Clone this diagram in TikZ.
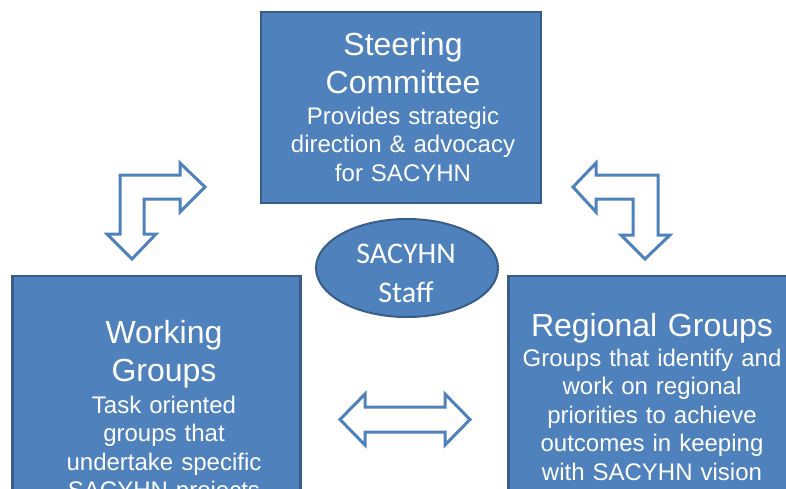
\documentclass[tikz,border=0pt]{standalone}
\usepackage{fontspec}
\setmainfont{Liberation Sans}
\newfontfamily\stafffont{Carlito}
\usetikzlibrary{shapes.geometric}
\definecolor{boxblue}{HTML}{4F81BD}
\definecolor{boxedge}{HTML}{385D8A}
\tikzstyle{group}=[rectangle,fill=boxblue,draw=boxedge,line width=2.5pt,inner sep=0pt]
\tikzstyle{staff}=[ellipse,fill=boxblue,draw=boxedge,line width=2pt,inner sep=0pt,minimum width=182pt,minimum height=98pt]
\tikzstyle{head}=[text=white,inner sep=0pt,anchor=base,align=center,text width=300pt,font=\fontsize{32}{38}\selectfont]
\tikzstyle{desc}=[text=white,inner sep=0pt,anchor=base,align=center,text width=300pt,font=\fontsize{24}{28.5}\selectfont]
\tikzstyle{blockarrow}=[draw=boxblue,line width=3pt,fill=white,line join=miter]

\begin{document}
\begin{tikzpicture}[x=1pt,y=-1pt]
    \useasboundingbox (0,0) rectangle (786,488);
    \clip (0,0) rectangle (786,488);
    % the three groups and the staff in the middle
    \node[group,minimum width=280pt,minimum height=191pt] (steer) at (401,107.5) {};
    \node[group,minimum width=288pt,minimum height=263pt] (work) at (156.5,407.5) {};
    \node[group,minimum width=288pt,minimum height=263pt] (region) at (652.5,407.5) {};
    \node[staff] (staff) at (407,268) {};

    \node[head] (steertitle) at (403,55) {Steering\\Committee};
    \node[desc] (steerdesc) at (403,124) {Provides strategic\\direction \& advocacy\\for SACYHN};
    \node[head] (worktitle) at (164,343) {Working\\Groups};
    \node[desc] (workdesc) at (164,413) {Task oriented\\groups that\\undertake specific\\SACYHN projects};
    \node[head] (regiontitle) at (652,336) {Regional Groups};
    \node[desc] (regiondesc) at (652,366) {Groups that identify and\\work on regional\\priorities to achieve\\outcomes in keeping\\with SACYHN vision};
    \node[text=white,inner sep=0pt,anchor=base,align=center,text width=150pt,
          font=\stafffont\fontsize{30}{39}\selectfont] (stafftext) at (406,263) {SACYHN\\Staff};

    % block arrows between the groups
    \draw[blockarrow] (120,175) -- (180,175) -- (180,163) -- (205,187) -- (180,212) -- (180,199)
        -- (144,199) -- (144,234) -- (156,234) -- (132,259) -- (107,234) -- (120,234) -- cycle;
    \draw[blockarrow] (658,175) -- (596,175) -- (596,163) -- (573,187) -- (596,212) -- (596,199)
        -- (633,199) -- (633,235) -- (621,235) -- (645,259) -- (670,235) -- (658,235) -- cycle;
    \draw[blockarrow] (340,419.5) -- (365,394) -- (365,407) -- (445,407) -- (445,394) -- (470,419.5)
        -- (445,445) -- (445,432) -- (365,432) -- (365,445) -- cycle;
\end{tikzpicture}
\end{document}
